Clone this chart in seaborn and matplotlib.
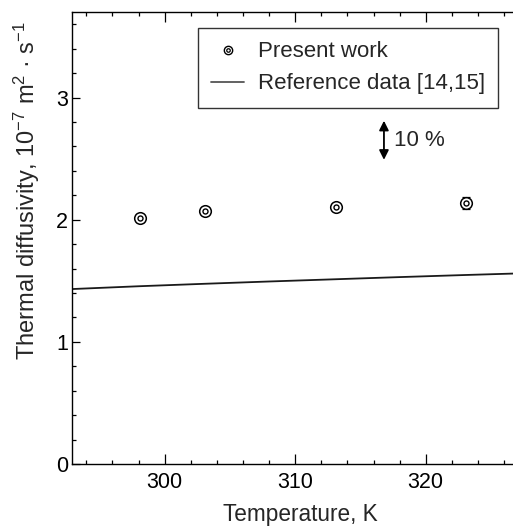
import numpy as np
import pandas as pd
import seaborn as sns
import matplotlib.pyplot as plt
from matplotlib.lines import Line2D
from matplotlib.ticker import MultipleLocator

# present work (measured points)
temp_k = [298.1, 303.1, 313.1, 323.1]
diffusivity = [2.01, 2.07, 2.105, 2.135]
diffusivity_err = [0.03, 0.02, 0.02, 0.05]

# reference data [14,15]
ref_temp_k = [292.0, 298.0, 303.0, 308.0, 313.0, 318.0, 323.0, 328.0]
ref_diffusivity = [1.428, 1.455, 1.475, 1.494, 1.512, 1.530, 1.547, 1.563]

sns.set_theme(style="ticks")
plt.rcParams['font.family'] = ['Liberation Sans', 'DejaVu Sans']
plt.rcParams['mathtext.fontset'] = 'custom'
plt.rcParams['mathtext.rm'] = 'Liberation Sans'
plt.rcParams['mathtext.it'] = 'Liberation Sans'

points = pd.DataFrame({'T': temp_k, 'a': diffusivity, 'err': diffusivity_err})
ref = pd.DataFrame({'T': ref_temp_k, 'a': ref_diffusivity})

fig = plt.figure(figsize=(5.13, 5.26), dpi=100)
# right spine sits just outside the picture, as in the original
ax = fig.add_axes([72 / 513, 1 - 464 / 526, 449 / 513, 452 / 526])

sns.lineplot(data=ref, x='T', y='a', color='#1a1a1a', lw=1.3, ax=ax)

ax.errorbar(points['T'], points['a'], yerr=points['err'], fmt='none',
            ecolor='black', elinewidth=0.9, capsize=3, capthick=0.9, zorder=3)
sns.scatterplot(data=points, x='T', y='a', s=70, marker='o', facecolor='white',
                edgecolor='black', linewidth=1.1, ax=ax, zorder=4)
sns.scatterplot(data=points, x='T', y='a', s=13, marker='o', facecolor='white',
                edgecolor='black', linewidth=1.0, ax=ax, zorder=5)

ax.set_xlim(292.9, 327.3)
ax.set_ylim(0, 3.7)
ax.xaxis.set_major_locator(MultipleLocator(10))
ax.xaxis.set_minor_locator(MultipleLocator(2))
ax.yaxis.set_major_locator(MultipleLocator(1))
ax.yaxis.set_minor_locator(MultipleLocator(0.2))
ax.tick_params(which='both', direction='in', top=True, right=True,
               width=0.9, colors='black', labelsize=15.5)
ax.tick_params(axis='x', which='major', length=7, pad=6)
ax.tick_params(axis='y', which='major', length=5.5, pad=3)
ax.tick_params(which='minor', length=2.8)
for s in ax.spines.values():
    s.set_linewidth(1.0)
    s.set_color('black')

ax.set_xlabel('Temperature, K', fontsize=16.3)
ax.set_ylabel('Thermal diffusivity, 10$^{-7}$ m$^{2}$ \u00b7 s$^{-1}$', fontsize=17)
ax.xaxis.set_label_coords(0.508, -0.087)
ax.yaxis.set_label_coords(-0.066, 0.604)

# 10 % scale arrow
ax.annotate('', xy=(316.8, 2.81), xytext=(316.8, 2.49),
            arrowprops=dict(arrowstyle='<|-|>', color='black', lw=1.3,
                            mutation_scale=14, shrinkA=0, shrinkB=0))
ax.text(317.6, 2.65, '10 %', fontsize=16, va='center', ha='left')

h_pts = (Line2D([], [], ls='none', marker='o', ms=6, mfc='white', mec='black', mew=1.0),
         Line2D([], [], ls='none', marker='o', ms=2.5, mfc='white', mec='black', mew=0.9))
h_ref = Line2D([], [], color='#555555', lw=1.3)
leg = ax.legend([h_pts, h_ref], ['Present work', 'Reference data [14,15]'],
                loc='upper right', bbox_to_anchor=(498 / 513, 1 - 28 / 526),
                bbox_transform=fig.transFigure, borderaxespad=0, fontsize=16,
                frameon=True, fancybox=False, handlelength=1.5, handletextpad=0.6,
                borderpad=0.6, labelspacing=0.5)
leg.get_frame().set_edgecolor('black')
leg.get_frame().set_linewidth(1.0)

fig.savefig('out.png', dpi=100)
